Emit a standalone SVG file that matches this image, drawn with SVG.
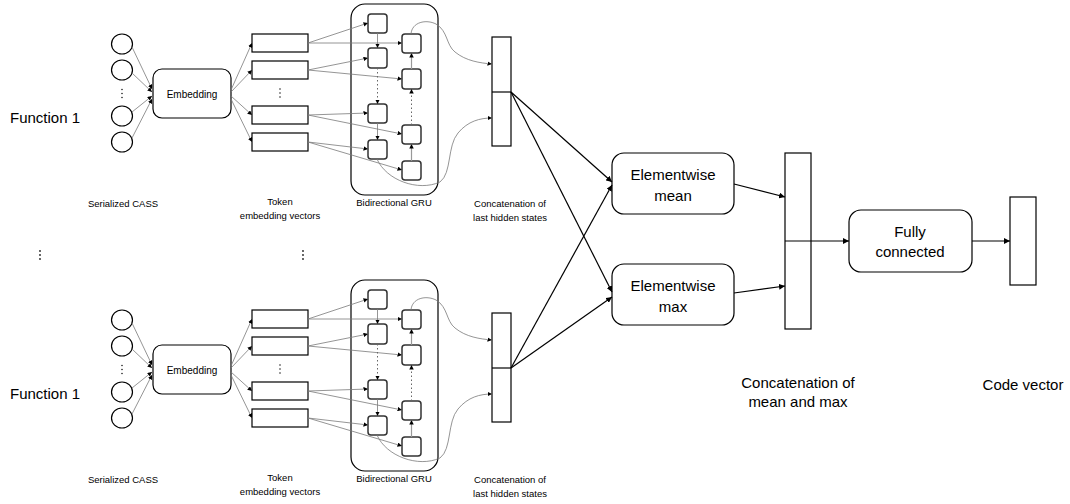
<svg xmlns="http://www.w3.org/2000/svg" width="1070" height="504" viewBox="0 0 1070 504">
<defs>
<style>
text{font-family:"Liberation Sans",Arial,sans-serif;fill:#000}
.lbl{font-size:9.5px;text-anchor:middle}
.big{font-size:15px;text-anchor:middle}
.fn{font-size:15px}
.emb{font-size:10px;text-anchor:middle}
.dot{fill:#222}
.node{fill:#fff;stroke:#000;stroke-width:1.2}
.cell{fill:#fff;stroke:#333;stroke-width:1.5}
.thin{fill:none;stroke:#7a7a7a;stroke-width:0.8;marker-end:url(#ah)}
.thinv{fill:none;stroke:#999;stroke-width:1.2;marker-end:url(#ah)}
.dash{fill:none;stroke:#666;stroke-width:1;stroke-dasharray:1.5 2.5;marker-end:url(#ah)}
.curve{fill:none;stroke:#7a7a7a;stroke-width:0.8;marker-end:url(#ah)}
.bold{fill:none;stroke:#000;stroke-width:1.2;marker-end:url(#ahb)}
</style>
<marker id="ah" viewBox="0 0 10 10" refX="10" refY="5" markerWidth="4.5" markerHeight="4.5" markerUnits="userSpaceOnUse" orient="auto"><path d="M0,0 L10,5 L0,10 z" fill="#000"/></marker>
<marker id="ahb" viewBox="0 0 10 10" refX="10" refY="5" markerWidth="6" markerHeight="6" markerUnits="userSpaceOnUse" orient="auto"><path d="M0,0 L10,5 L0,10 z" fill="#000"/></marker>
<g id="half">
<g id="function-label"><text class="fn" x="10" y="122.5">Function 1</text></g>
<g id="tokens">
<ellipse class="node" cx="122" cy="44" rx="10.5" ry="10"/>
<ellipse class="node" cx="122" cy="70" rx="10.5" ry="10"/>
<ellipse class="node" cx="122" cy="116" rx="10.5" ry="10"/>
<ellipse class="node" cx="122" cy="142" rx="10.5" ry="10"/>
<circle class="dot" cx="122" cy="89.5" r="0.8"/><circle class="dot" cx="122" cy="93.5" r="0.8"/><circle class="dot" cx="122" cy="97.5" r="0.8"/>
</g>
<g id="embedding"><rect class="node" x="153" y="69" width="78" height="49" rx="9"/><text class="emb" x="192" y="97.5">Embedding</text></g>
<g id="token-vectors">
<rect class="node" x="252" y="34" width="56" height="18"/>
<rect class="node" x="252" y="61" width="56" height="18"/>
<rect class="node" x="252" y="106" width="56" height="18"/>
<rect class="node" x="252" y="133" width="56" height="18"/>
<circle class="dot" cx="280" cy="89" r="0.8"/><circle class="dot" cx="280" cy="93" r="0.8"/><circle class="dot" cx="280" cy="97" r="0.8"/>
</g>
<g id="gru">
<rect fill="none" stroke="#000" stroke-width="1.2" x="351" y="4" width="87" height="191" rx="14"/>
<rect class="cell" x="368" y="14" width="19" height="19" rx="3"/>
<rect class="cell" x="368" y="48" width="19" height="20" rx="3"/>
<rect class="cell" x="368" y="104" width="19" height="19" rx="3"/>
<rect class="cell" x="368" y="140" width="19" height="19" rx="3"/>
<rect class="cell" x="402" y="34" width="19" height="19" rx="3"/>
<rect class="cell" x="402" y="69" width="19" height="20" rx="3"/>
<rect class="cell" x="402" y="125" width="19" height="19" rx="3"/>
<rect class="cell" x="402" y="161" width="19" height="19" rx="3"/>
</g>
<g id="hidden-concat"><rect class="node" x="492" y="37" width="19" height="109"/><line x1="492" y1="92" x2="511" y2="92" stroke="#000" stroke-width="1.2"/></g>
<g id="labels">
<text class="lbl" x="123" y="206.5">Serialized CASS</text>
<text class="lbl" x="280" y="205">Token</text>
<text class="lbl" x="280" y="218.5">embedding vectors</text>
<text class="lbl" x="394" y="206">Bidirectional GRU</text>
<text class="lbl" x="510" y="206.5">Concatenation of</text>
<text class="lbl" x="510" y="220.5">last hidden states</text>
</g>
<g id="half-connectors">
<path class="thin" d="M132,47 L152,89"/>
<path class="thin" d="M132,73 L152,92"/>
<path class="thin" d="M132,112 L152,96"/>
<path class="thin" d="M132,138 L152,99"/>
<path class="thin" d="M231,90 L252,43"/>
<path class="thin" d="M231,92 L252,70"/>
<path class="thin" d="M231,96 L252,115"/>
<path class="thin" d="M231,99 L252,142"/>
<path class="thin" d="M308,43 L368,23"/>
<path class="thin" d="M308,43 L402,43"/>
<path class="thin" d="M308,70 L368,58"/>
<path class="thin" d="M308,70 L402,79"/>
<path class="thin" d="M308,115 L368,113"/>
<path class="thin" d="M308,115 L402,134"/>
<path class="thin" d="M308,142 L368,149"/>
<path class="thin" d="M308,142 L402,170"/>
<path class="thin" d="M377.5,33 L377.5,48"/>
<path class="dash" d="M377.5,68 L377.5,104"/>
<path class="thin" d="M377.5,123 L377.5,140"/>
<path class="thinv" d="M411.5,161 L411.5,144"/>
<path class="dash" d="M411.5,125 L411.5,89"/>
<path class="thinv" d="M411.5,69 L411.5,53"/>
<path class="curve" d="M411,34 C412,22 426,19 436,24 C448,31 446,45 455,52 C466,61 480,63 492,64"/>
<path class="curve" d="M377,159 C386,180 418,192 440,182 C452,173 447,146 458,133 C468,121 480,118 492,118"/>
</g>
</g>
</defs>
<rect width="1070" height="504" fill="#fff"/>
<use href="#half" id="function-top"/>
<use href="#half" id="function-bottom" transform="translate(0,276)"/>
<g id="middle-dots">
<circle class="dot" cx="40" cy="251" r="0.9"/><circle class="dot" cx="40" cy="255" r="0.9"/><circle class="dot" cx="40" cy="259" r="0.9"/>
<circle class="dot" cx="303" cy="251" r="0.9"/><circle class="dot" cx="303" cy="255" r="0.9"/><circle class="dot" cx="303" cy="259" r="0.9"/>
</g>
<g id="elementwise-mean"><rect class="node" x="612" y="153" width="122" height="61" rx="12"/><text class="big" x="673" y="180">Elementwise</text><text class="big" x="673" y="201">mean</text></g>
<g id="elementwise-max"><rect class="node" x="612" y="264" width="122" height="61" rx="12"/><text class="big" x="673" y="291">Elementwise</text><text class="big" x="673" y="312">max</text></g>
<g id="mean-max-concat"><rect class="node" x="785" y="153" width="26" height="176"/><text class="big" x="798" y="388">Concatenation of</text><text class="big" x="798" y="407">mean and max</text></g>
<g id="fully-connected"><rect class="node" x="849" y="210" width="123" height="62" rx="12"/><text class="big" x="910" y="237">Fully</text><text class="big" x="910" y="257">connected</text></g>
<g id="code-vector"><rect class="node" x="1010" y="197" width="26" height="88"/><text class="big" x="1023" y="390">Code vector</text></g>
<g id="connectors">
<path class="bold" d="M511,92 L612,182"/>
<path class="bold" d="M511,92 L612,292"/>
<path class="bold" d="M511,368 L612,185"/>
<path class="bold" d="M511,368 L612,297"/>
<path class="bold" d="M734,184 L785,197"/>
<path class="bold" d="M734,293 L785,286"/>
<path class="bold" d="M785,241 L849,241"/>
<path class="bold" d="M972,241 L1010,241"/>
</g>
</svg>
